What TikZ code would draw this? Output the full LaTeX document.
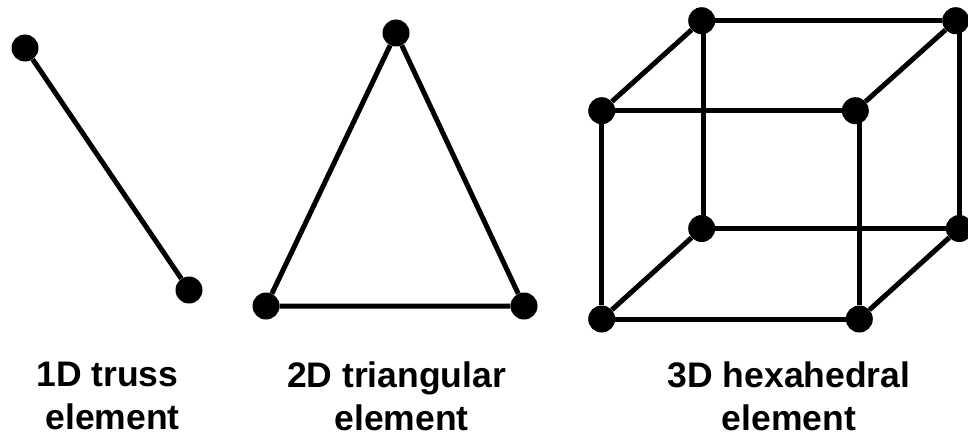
\documentclass[tikz,border=0pt]{standalone}
\usepackage{fontspec}
\setmainfont{Liberation Sans}
\usetikzlibrary{positioning}
\begin{document}
\begin{tikzpicture}[
    x=1pt, y=-1pt,
    dot/.style={circle, fill=black, inner sep=0pt, minimum size=27pt},
    bar/.style={line width=5pt},
    lbl/.style={font=\fontsize{35.5}{43}\selectfont\bfseries, align=center, inner sep=0pt},
]
\useasboundingbox (0,0) rectangle (968,436);

% truss
\node[dot] (trA) at (25,48) {};
\node[dot] (trB) at (189,290) {};
\draw[bar] (trA) -- (trB);

% triangle
\node[dot] (triT) at (396,33) {};
\node[dot] (triL) at (266,306) {};
\node[dot] (triR) at (524,306) {};
\draw[bar] (triT) -- (triL) -- (triR) -- (triT);

% hexahedron
\node[dot] (hexA) at (601.7,110.7) {};
\node[dot] (hexB) at (855.3,110.7) {};
\node[dot] (hexC) at (601.7,319) {};
\node[dot] (hexD) at (859.3,319) {};
\node[dot] (hexE) at (701.7,20.7) {};
\node[dot] (hexF) at (955.7,20.7) {};
\node[dot] (hexG) at (701.7,228.5) {};
\node[dot] (hexH) at (959.3,228.5) {};
\coordinate (hexBd) at (hexD |- hexB);
\coordinate (hexFd) at (hexH |- hexF);
\coordinate (hexEd) at (703.7,20.7);
\coordinate (hexGd) at (703.7,228.5);
\draw[bar] (hexA) -- (hexB);
\draw[bar] (hexC) -- (hexD);
\draw[bar] (hexA) -- (hexC);
\draw[bar] (hexBd) -- (hexD);
\draw[bar] (hexE) -- (hexF);
\draw[bar] (hexG) -- (hexH);
\draw[bar] (hexEd) -- (hexGd);
\draw[bar] (hexFd) -- (hexH);
\draw[bar] (hexA) -- (hexE);
\draw[bar] (hexB) -- (hexF);
\draw[bar] (hexC) -- (hexG);
\draw[bar] (hexD) -- (hexH);

\node[lbl] (lblA) at (107.5,396) {1D truss\\\hspace*{10pt}element};
\node[lbl] (lblB) at (396.5,396) {2D triangular\\\hspace*{10pt}element};
\node[lbl] (lblC) at (789,396) {3D hexahedral\\element};
\end{tikzpicture}
\end{document}
